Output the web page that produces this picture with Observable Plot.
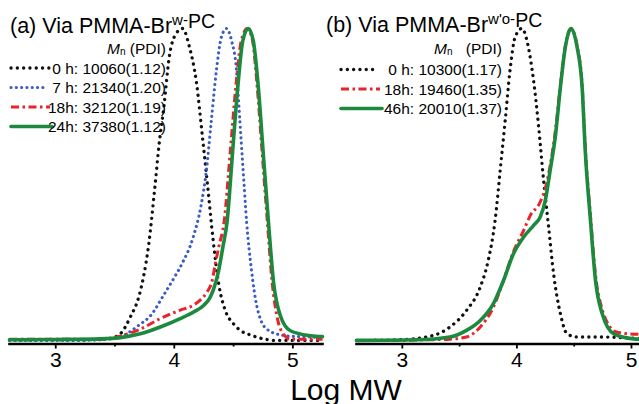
<!DOCTYPE html>
<html><head><meta charset="utf-8">
<script src="https://cdn.jsdelivr.net/npm/d3@7"></script>
<script src="https://cdn.jsdelivr.net/npm/@observablehq/plot@0.6"></script>
<style>
html,body{margin:0;padding:0;background:#fff;}
#wrap{position:relative;width:639px;height:404px;overflow:hidden;font-family:"Liberation Sans",Arial,sans-serif;}
#wrap svg{position:absolute;top:0;}
</style></head><body><div id="wrap"></div>
<script>
// ---------- Panel (a): Via PMMA-Br w-PC ----------
const a0x  = [2.61, 3.2, 3.45, 3.544, 3.629, 3.70, 3.74, 3.785, 3.83, 3.872, 3.915, 3.957, 4.014, 4.07, 4.128, 4.185, 4.238, 4.283, 4.326, 4.374, 4.43, 4.50, 4.557, 4.638, 4.78, 4.85, 5.25];
const a0y  = [0.002, 0.002, 0.006, 0.021, 0.075, 0.139, 0.203, 0.31, 0.468, 0.629, 0.758, 0.907, 0.983, 1.0, 0.94, 0.832, 0.65, 0.488, 0.327, 0.182, 0.096, 0.053, 0.032, 0.018, 0.003, 0.0, 0.0];
const a7x  = [2.61, 3.2, 3.45, 3.544, 3.713, 3.797, 3.91, 3.994, 4.065, 4.156, 4.227, 4.27, 4.312, 4.355, 4.397, 4.44, 4.483, 4.525, 4.553, 4.581, 4.61, 4.653, 4.695, 4.78, 4.92, 5.05, 5.25];
const a7y  = [0.0, 0.0, 0.004, 0.011, 0.052, 0.078, 0.145, 0.198, 0.246, 0.327, 0.435, 0.542, 0.703, 0.865, 0.972, 1.0, 0.961, 0.865, 0.703, 0.542, 0.38, 0.219, 0.112, 0.036, 0.016, 0.012, 0.01];
const a18x = [2.61, 3.0, 3.376, 3.544, 3.713, 3.882, 4.05, 4.163, 4.22, 4.276, 4.318, 4.346, 4.375, 4.42, 4.47, 4.518, 4.565, 4.615, 4.66, 4.70, 4.742, 4.785, 4.825, 4.87, 4.92, 4.98, 5.25];
const a18y = [0.004, 0.004, 0.003, 0.014, 0.036, 0.07, 0.097, 0.113, 0.13, 0.155, 0.19, 0.245, 0.30, 0.38, 0.596, 0.81, 0.961, 1.0, 0.961, 0.81, 0.596, 0.38, 0.187, 0.07, 0.02, 0.004, 0.004];
const a24x = [2.61, 3.0, 3.376, 3.544, 3.713, 3.882, 4.05, 4.163, 4.247, 4.304, 4.346, 4.374, 4.41, 4.445, 4.49, 4.535, 4.578, 4.624, 4.666, 4.709, 4.751, 4.794, 4.837, 4.894, 4.979, 5.149, 5.25];
const a24y = [0.002, 0.003, 0.005, 0.009, 0.021, 0.043, 0.07, 0.091, 0.112, 0.139, 0.182, 0.224, 0.30, 0.38, 0.596, 0.81, 0.961, 1.0, 0.961, 0.81, 0.596, 0.38, 0.187, 0.08, 0.031, 0.015, 0.012];

// ---------- Panel (b): Via PMMA-Br w'o-PC ----------
const b0x  = [2.6, 2.98, 3.27, 3.416, 3.56, 3.68, 3.75, 3.81, 3.854, 3.898, 3.94, 3.985, 4.044, 4.10, 4.145, 4.19, 4.233, 4.277, 4.32, 4.38, 4.438, 4.525, 4.73, 5.07];
const b0y  = [0.0, 0.002, 0.016, 0.043, 0.096, 0.171, 0.257, 0.385, 0.545, 0.706, 0.866, 0.973, 1.0, 0.94, 0.834, 0.684, 0.513, 0.363, 0.214, 0.085, 0.021, 0.011, 0.011, 0.006];
const b18x = [2.6, 3.0, 3.2, 3.416, 3.56, 3.68, 3.795, 3.883, 3.97, 4.058, 4.116, 4.204, 4.25, 4.29, 4.335, 4.38, 4.423, 4.47, 4.525, 4.569, 4.598, 4.642, 4.686, 4.744, 4.8, 4.846, 4.95, 5.07];
const b18y = [0.0, 0.0, 0.002, 0.004, 0.011, 0.043, 0.107, 0.192, 0.285, 0.352, 0.40, 0.444, 0.49, 0.56, 0.67, 0.82, 0.945, 1.0, 0.945, 0.82, 0.61, 0.40, 0.21, 0.1, 0.05, 0.03, 0.022, 0.02];
const b46x = [2.6, 3.12, 3.416, 3.56, 3.68, 3.795, 3.883, 3.97, 4.058, 4.146, 4.204, 4.248, 4.29, 4.335, 4.38, 4.423, 4.473, 4.525, 4.569, 4.598, 4.642, 4.686, 4.744, 4.846, 5.02, 5.07];
const b46y = [0.0, 0.002, 0.011, 0.032, 0.064, 0.118, 0.192, 0.278, 0.331, 0.369, 0.396, 0.449, 0.545, 0.652, 0.813, 0.941, 1.0, 0.941, 0.813, 0.599, 0.385, 0.192, 0.086, 0.021, 0.005, 0.004];

// ---------- Texts ----------
const titleA = ["(a) Via PMMA-Br", "w-", "PC"];
const titleB = ["(b) Via PMMA-Br", "w'o-", "PC"];
const labelsA = ["0 h: 10060(1.12)", "7 h: 21340(1.20)", "18h: 32120(1.19)", "24h: 37380(1.12)"];
const labelsB = ["0 h: 10300(1.17)", "18h: 19460(1.35)", "46h: 20010(1.37)"];
const majorTicks = [3, 4, 5];
const minorTicks = [3.5, 4.5];
const xLabel = "Log MW";

// ---------- Styles ----------
const sty = {
  k: {stroke: "#111111", strokeWidth: 3.3, strokeDasharray: "0.1,6.2", strokeLinecap: "round"},
  b: {stroke: "#3b5cc2", strokeWidth: 3.1, strokeDasharray: "0.1,5.2", strokeLinecap: "round"},
  r: {stroke: "#e8232b", strokeWidth: 3.0, strokeDasharray: "8,3.5,2.5,3.5", strokeLinecap: "butt"},
  g: {stroke: "#1c8a3e", strokeWidth: 3.6, strokeDasharray: null, strokeLinecap: "round"}
};
const seriesA = [[a0x, a0y, "k"], [a7x, a7y, "b"], [a18x, a18y, "r"], [a24x, a24y, "g"]];
const seriesB = [[b0x, b0y, "k"], [b18x, b18y, "r"], [b46x, b46y, "g"]];

const font = "'Liberation Sans', Arial, sans-serif";
const wrap = document.getElementById("wrap");

function panel(series, domain, width, mL, mR, left) {
  const marks = [];
  for (const [xs, ys, s] of series) {
    const rows = xs.map((x, i) => ({x, y: ys[i]}));
    const st = sty[s];
    const o = {x: "x", y: "y", curve: "monotone-x", stroke: st.stroke, strokeWidth: st.strokeWidth, strokeLinecap: st.strokeLinecap, strokeLinejoin: "round"};
    if (st.strokeDasharray) o.strokeDasharray = st.strokeDasharray;
    marks.push(Plot.line(rows, o));
  }
  marks.push(Plot.frame({anchor: "bottom", strokeWidth: 2.6, stroke: "#000"}));
  marks.push(Plot.axisX({ticks: majorTicks, tickSize: 5, tickPadding: 3, fontSize: 21, tickFormat: d => String(d), label: null, strokeWidth: 1.8}));
  marks.push(Plot.axisX({ticks: minorTicks, tickSize: 3, tickFormat: () => "", label: null, strokeWidth: 1.8}));
  const svg = Plot.plot({
    width, height: 404,
    marginLeft: mL, marginRight: mR, marginTop: 28, marginBottom: 60.5,
    x: {domain, label: null},
    y: {domain: [-0.0115, 1], axis: null},
    style: {fontFamily: font, background: "transparent", overflow: "visible", color: "#000"},
    marks
  });
  svg.style.left = left + "px";
  wrap.appendChild(svg);
}

panel(seriesA, [2.61, 5.25], 330, 9, 8, 0);
panel(seriesB, [2.6, 5.07], 299, 16, 0, 340);

// ---------- Overlay: titles, legends, axis label ----------
const NS = "http://www.w3.org/2000/svg";
const ov = document.createElementNS(NS, "svg");
ov.setAttribute("width", 639); ov.setAttribute("height", 404);
ov.style.left = "0px";
ov.setAttribute("font-family", font);
wrap.appendChild(ov);
function el(tag, attrs, parent) {
  const e = document.createElementNS(NS, tag);
  for (const k in attrs) if (attrs[k] != null) e.setAttribute(k, attrs[k]);
  (parent || ov).appendChild(e);
  return e;
}
function title(parts, x, y) {
  const t = el("text", {x, y, "font-size": 21.5, fill: "#000"});
  el("tspan", {}, t).textContent = parts[0];
  el("tspan", {"font-size": 15, dy: -8}, t).textContent = parts[1];
  el("tspan", {"font-size": 19.5, dy: 3}, t).textContent = parts[2];
}
title(titleA, 10, 33);
title(titleB, 326, 32);

function mnHeader(xRight, xM, y) {
  const t = el("text", {x: xM, y, "font-size": 15.5, fill: "#000"});
  el("tspan", {"font-style": "italic"}, t).textContent = "M";
  el("tspan", {"font-size": 10, dy: 1}, t).textContent = "n";
  const p = el("text", {x: xRight, y, "font-size": 15.5, "text-anchor": "end", fill: "#000"});
  p.textContent = "(PDI)";
}
mnHeader(166, 107, 53.5);
mnHeader(502, 434, 54);

function legend(labels, keys, x1, x2s, xText, y0, dy) {
  labels.forEach((lab, i) => {
    const y = y0 + i * dy;
    const st = sty[keys[i]];
    el("line", {x1, x2: x2s[i], y1: y - 5.5, y2: y - 5.5, stroke: st.stroke, "stroke-width": st.strokeWidth,
      "stroke-dasharray": st.strokeDasharray, "stroke-linecap": st.strokeLinecap});
    const t = el("text", {x: xText, y, "font-size": 15.5, "text-anchor": "end", fill: "#000"});
    t.textContent = lab;
  });
}
legend(labelsA, ["k", "b", "r", "g"], 11, [50, 47, 50, 52], 166, 73.5, 19.5);
legend(labelsB, ["k", "r", "g"], 341, [375, 380, 382], 502, 75, 19.5);

const xl = el("text", {x: 346, y: 399.5, "font-size": 30, "text-anchor": "middle", fill: "#000"});
xl.textContent = xLabel;
</script></body></html>
